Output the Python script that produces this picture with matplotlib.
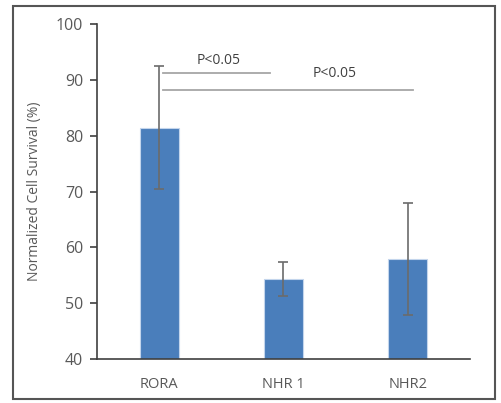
import matplotlib
matplotlib.use("Agg")
import matplotlib.pyplot as plt
from matplotlib.patches import Rectangle

## data
groups = ["RORA", "NHR 1", "NHR2"]
survival = [81.4, 54.3, 57.9]
err = [11.0, 3.0, 10.0]
## significance brackets: (start, end, line y, text x, text y, label)
sig_start = [0.03, 0.03]
sig_end = [0.89, 2.04]
sig_y = [91.3, 88.2]
sig_text_x = [0.48, 1.41]
sig_text_y = [93.4, 91.2]
sig_label = ["P<0.05", "P<0.05"]

plt.rcParams["font.family"] = ["Open Sans", "DejaVu Sans"]
txt = "#595959"

fig = plt.figure(figsize=(5.01, 4.03), dpi=100)
ax = fig.add_axes([0.1936, 0.1092, 0.938 - 0.1936, 0.9404 - 0.1092])

x = range(len(groups))
ax.bar(x, survival, width=0.315, color="#4a7ebb", edgecolor="#c3d5ec", linewidth=0.8,
       yerr=err, error_kw=dict(ecolor="#6b6b6b", elinewidth=1.2, capsize=3.5, capthick=1.2))

for i in range(len(sig_y)):
    ax.plot([sig_start[i], sig_end[i]], [sig_y[i], sig_y[i]], color="#a6a6a6", lw=1.3)
    ax.text(sig_text_x[i], sig_text_y[i], sig_label[i], ha="center", va="center",
            fontsize=10, color="#404040")

ax.set_xlim(-0.5, 2.5)
ax.set_ylim(40, 100)
ax.set_yticks(range(40, 101, 10))
ax.set_xticks(list(x))
ax.set_xticklabels(groups)
ax.spines["top"].set_visible(False)
ax.spines["right"].set_visible(False)
for s in ["left", "bottom"]:
    ax.spines[s].set_color("#404040")
    ax.spines[s].set_linewidth(1.2)
ax.tick_params(axis="y", direction="out", length=5, width=1.2, color="#404040",
               labelsize=11.5, labelcolor=txt, pad=5)
ax.tick_params(axis="x", length=0, labelsize=10.5, labelcolor=txt, pad=13)
ax.set_ylabel("Normalized Cell Survival (%)", fontsize=10, color=txt, labelpad=10)

## chart border
fig.patches.append(Rectangle((13 / 501, 4 / 403), (495 - 13) / 501, (399 - 6) / 403,
                             transform=fig.transFigure, fill=False,
                             edgecolor="#555555", lw=1.5))

fig.savefig("out.png", dpi=100)
